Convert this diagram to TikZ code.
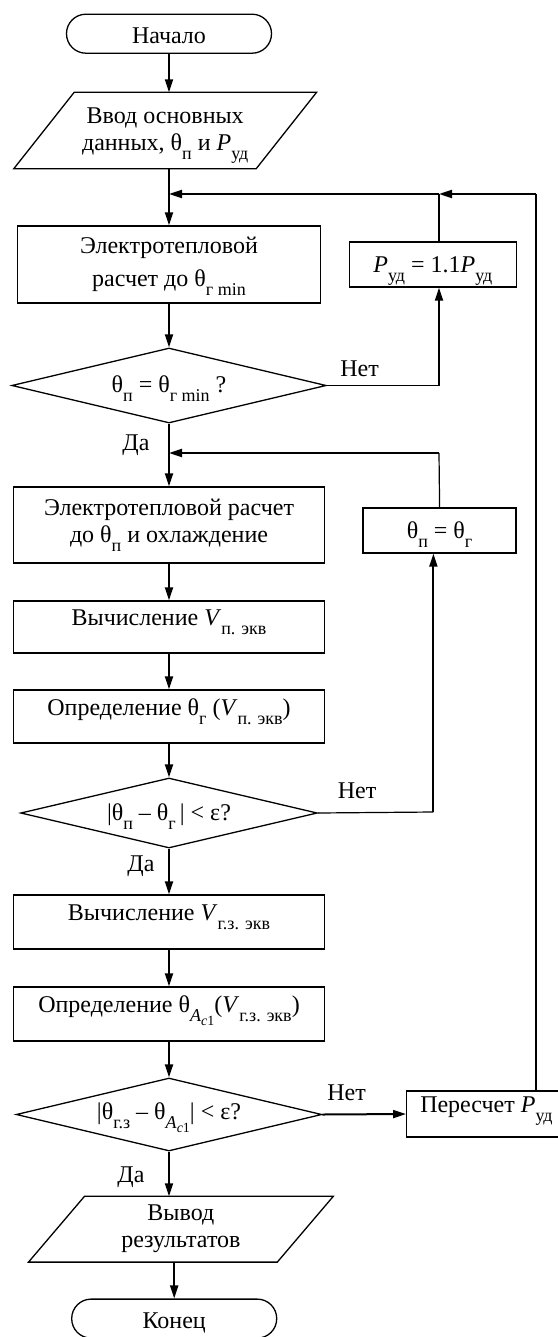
\documentclass[tikz,border=0pt,12pt]{standalone}
\usepackage{fontspec}
\setmainfont{Liberation Serif}
\usepackage{tikz}
\usetikzlibrary{arrows.meta,shapes.geometric}
\newcommand{\lo}[1]{\raisebox{-4.5pt}{\fontsize{9}{10}\selectfont #1}}
\newcommand{\llo}[1]{\raisebox{-2pt}{\fontsize{7}{8}\selectfont #1}}
\newcommand{\slant}[2]{\draw[frame] ([xshift=-#2]#1.south west) -- ([xshift=-#2]#1.south east) -- ([xshift=#2]#1.north east) -- ([xshift=#2]#1.north west) -- cycle;}
\tikzset{
  frame/.style={line width=.65pt},
  box/.style={frame,draw,rectangle,inner sep=2pt,align=center},
  onebox/.style={box,text height=8pt,text depth=9.5pt},
  capbox/.style={box,text height=8pt,text depth=0pt},
  term/.style={frame,draw,rounded corners=9.7pt,minimum width=102.5pt,minimum height=19.5pt,text height=10pt,text depth=0pt},
  io/.style={inner sep=0pt,align=center},
  dec/.style={frame,draw,diamond,aspect=4,inner sep=0pt,text height=8pt,text depth=1pt},
  arr/.style={line width=1pt,-{Triangle[length=6.5pt,width=4pt]}},
  thinln/.style={line width=.6pt},
  lbl/.style={anchor=base,inner sep=0pt},
}
\begin{document}
\begin{tikzpicture}[x=.5pt,y=-.5pt,font=\fontsize{12}{13.5}\selectfont]
\useasboundingbox (0,0) rectangle (557,1337);
% main column
\node[term] (start) at (169,33.7) {Начало};
\node[io,minimum width=120.8pt,minimum height=37.8pt] (in1) at (165.2,130.5) {\rule{0pt}{13pt}Ввод основных\\данных, θ\lo{п} и \textit{P}\lo{уд}};
\slant{in1}{15.1pt}
\node[box,minimum width=151.5pt,minimum height=38.5pt] (b1) at (169,264.5) {\rule{0pt}{10pt}Электротепловой\\[3pt]расчет до θ\lo{г min}};
\node[dec,minimum width=157.2pt,minimum height=37.5pt] (d1) at (169,385.5) {θ\lo{п} = θ\lo{г min} ?};
\node[box,minimum width=155.5pt,minimum height=38pt] (b2) at (169,525) {Электротепловой расчет\\до θ\lo{п} и охлаждение};
\node[onebox,minimum width=155.5pt,minimum height=26pt] (b3) at (169,627) {Вычисление \textit{V}\lo{п. экв}};
\node[onebox,minimum width=155.8pt,minimum height=26.5pt] (b4) at (169,716.5) {Определение θ\lo{г} (\textit{V}\lo{п. экв})};
\node[dec,minimum width=148.3pt,minimum height=35pt] (d2) at (169,813) {|θ\lo{п} – θ\lo{г}\,| < ε?};
\node[onebox,minimum width=155.8pt,minimum height=27pt] (b5) at (169,922) {Вычисление \textit{V}\lo{г.з. экв}};
\node[onebox,minimum width=155.8pt,minimum height=27pt] (b6) at (169,1014) {Определение θ\lo{\textit{A}\llo{\textit{c}1}}(\textit{V}\lo{г.з. экв})};
\node[dec,text depth=3pt,minimum width=152.8pt,minimum height=36.5pt] (d3) at (169,1114.5) {|θ\lo{г.з} – θ\lo{\textit{A}\llo{\textit{c}1}}| < ε?};
\node[io,minimum width=124pt,minimum height=32.5pt] (out) at (180.9,1229.2) {Вывод\\результатов};
\slant{out}{14pt}
\node[term] (end) at (174.2,1318.6) {Конец};
% side boxes
\node[capbox,minimum width=83.6pt,minimum height=22.5pt] (pud) at (432.9,264.5) {\textit{P}\lo{уд} = 1.1\textit{P}\lo{уд}};
\node[capbox,minimum width=76.5pt,minimum height=22.5pt] (tp) at (439.6,530.5) {θ\lo{п} = θ\lo{г}};
\node[onebox,minimum width=79.7pt,minimum height=23pt] (rec) at (486.4,1114) {Пересчет \textit{P}\lo{уд}};
% bends
\coordinate (m1) at (439,194);
\coordinate (m2) at (439,453);
\coordinate (n1) at (439,385.5);
\coordinate (n2) at (433.4,812);
\coordinate (r1) at (536,194);
% labels
\node[lbl] (no1) at (359.5,376) {Нет};
\node[lbl] (yes1) at (136,450) {Да};
\node[lbl] (no2) at (357,798) {Нет};
\node[lbl] (yes2) at (141,871.5) {Да};
\node[lbl] (no3) at (346.5,1100) {Нет};
\node[lbl] (yes3) at (131,1182.5) {Да};
% connectors
\draw[arr] (start) -- (start |- in1.north);
\draw[arr] (in1.south -| b1.north) -- (b1.north);
\draw[arr] (b1) -- (d1);
\draw[arr] (d1) -- (b2);
\draw[arr] (b2) -- (b3);
\draw[arr] (b3) -- (b4);
\draw[arr] (b4) -- (d2);
\draw[arr] (d2) -- (b5);
\draw[arr] (b5) -- (b6);
\draw[arr] (b6) -- (d3);
\draw[arr] (d3.south) -- (d3.south |- out.north);
\draw[arr] (out.south -| end.north) -- (end.north);
\draw[thinln] (d1.east) -- (n1);
\draw[arr] (n1) -- (n1 |- pud.south);
\draw[thinln] (pud.north -| m1) -- (m1);
\draw[thinln] (tp.north) -- (m2);
\draw[arr] (m2) -- (m2 -| b2.north);
\draw[thinln] (d2.east) -- (n2);
\draw[arr] (n2) -- (n2 |- tp.south);
\draw[arr] (d3.east) -- (rec.west);
\draw[thinln] (rec.north -| r1) -- (r1);
\draw[arr] (r1) -- (m1);
\draw[arr] (m1) -- (m1 -| b1.north);
\end{tikzpicture}
\end{document}
